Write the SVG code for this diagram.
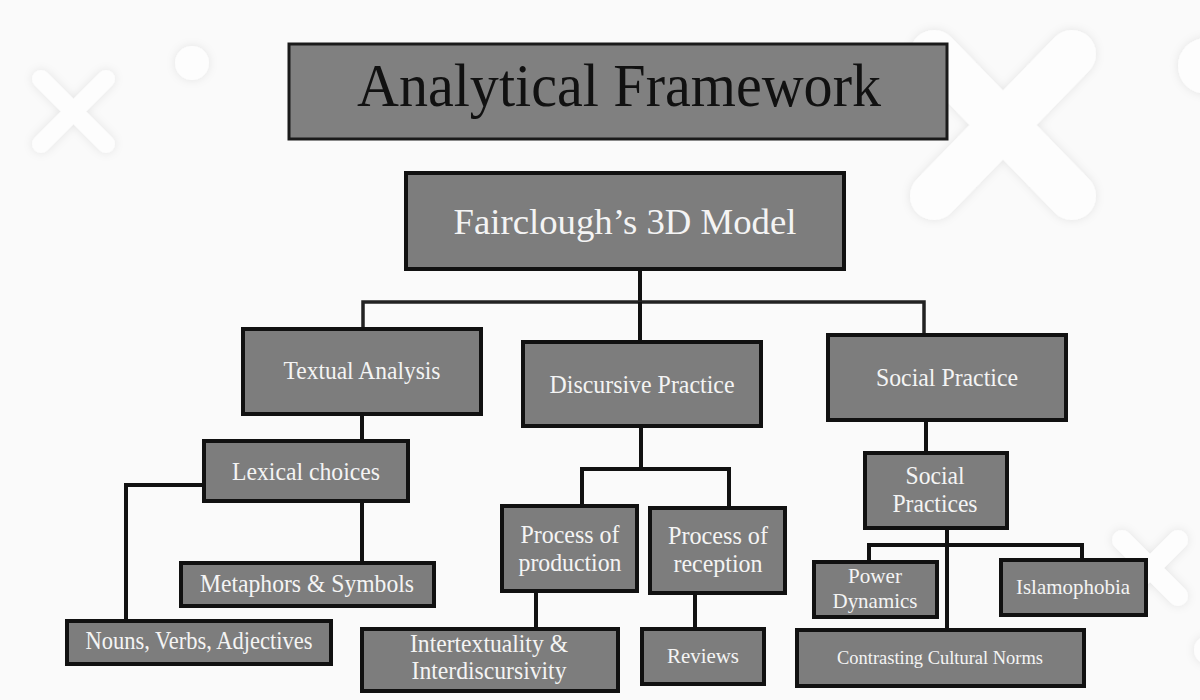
<svg xmlns="http://www.w3.org/2000/svg" width="1200" height="700" viewBox="0 0 1200 700">
<defs>
<filter id="soft" x="-50%" y="-50%" width="200%" height="200%">
<feDropShadow dx="0" dy="0" stdDeviation="5" flood-color="#000" flood-opacity="0.09"/>
</filter>
<style>
.bg{fill:#fafafa}
.deco{fill:none;stroke:#fdfdfd;stroke-linecap:round}
.dot{fill:#fdfdfd}
.box{fill:#7d7d7d;stroke:#111;stroke-width:4}
.tbox{fill:#808080;stroke:#1a1a1a;stroke-width:3}
.lbl{font-family:"Liberation Serif","Times New Roman",serif;fill:#f4f4f4;text-anchor:middle;font-size:25px}
.sm{font-size:21px}
.xs{font-size:19px}
.title{font-family:"Liberation Serif","Times New Roman",serif;fill:#111;text-anchor:middle;font-size:62px}
.conn{fill:none;stroke:#111;stroke-width:4}
.hub{fill:none;stroke:#222;stroke-width:3.5}
</style>
</defs>
<rect class="bg" x="0" y="0" width="1200" height="700"/>
<g id="decorations" filter="url(#soft)">
<path class="deco" stroke-width="18" d="M41,79 L106,144 M106,79 L41,144"/>
<circle class="dot" cx="192" cy="63" r="17"/>
<path class="deco" stroke-width="48" d="M934,54 L1072,196 M1072,54 L934,196"/>
<circle class="dot" cx="1206" cy="66" r="28"/>
<path class="deco" stroke-width="20" d="M1122,540 L1178,596 M1178,540 L1122,596"/>
<circle class="dot" cx="1208" cy="650" r="14"/>
</g>
<g id="connectors">
<path class="conn" d="M640,268 V302"/>
<path class="hub" d="M363,329 V302 H924 V335"/>
<path class="conn" d="M640,302 V342"/>
<path class="conn" d="M362,414 V441"/>
<path class="conn" d="M204,485 H126 V621"/>
<path class="conn" d="M362,501 V563"/>
<path class="conn" d="M641,426 V469"/>
<path class="conn" d="M582,506 V469 H729 V508"/>
<path class="conn" d="M536,591 V629"/>
<path class="conn" d="M695,593 V629"/>
<path class="conn" d="M926,420 V453"/>
<path class="conn" d="M947,528 V630"/>
<path class="conn" d="M869,562 V545 H1082 V560"/>
</g>
<g id="title">
<rect class="tbox" x="289" y="44" width="658" height="95"/>
<text class="title" x="619" y="106" textLength="524" lengthAdjust="spacingAndGlyphs">Analytical Framework</text>
</g>
<g id="fairclough">
<rect class="box" x="406" y="173" width="438" height="96"/>
<text class="lbl" x="625" y="234" style="font-size:36px" textLength="343" lengthAdjust="spacingAndGlyphs">Fairclough’s 3D Model</text>
</g>
<g id="textual">
<rect class="box" x="243" y="329" width="238" height="85"/>
<text class="lbl" x="362" y="379" textLength="157" lengthAdjust="spacingAndGlyphs">Textual Analysis</text>
</g>
<g id="discursive">
<rect class="box" x="523" y="342" width="238" height="84"/>
<text class="lbl" x="642" y="393" textLength="185" lengthAdjust="spacingAndGlyphs">Discursive Practice</text>
</g>
<g id="social-practice">
<rect class="box" x="828" y="335" width="238" height="85"/>
<text class="lbl" x="947" y="386" textLength="142" lengthAdjust="spacingAndGlyphs">Social Practice</text>
</g>
<g id="lexical">
<rect class="box" x="204" y="441" width="204" height="60"/>
<text class="lbl" x="306" y="480" textLength="148" lengthAdjust="spacingAndGlyphs">Lexical choices</text>
</g>
<g id="metaphors">
<rect class="box" x="181" y="563" width="253" height="43"/>
<text class="lbl" x="307" y="592" textLength="214" lengthAdjust="spacingAndGlyphs">Metaphors &amp; Symbols</text>
</g>
<g id="nouns">
<rect class="box" x="67" y="621" width="264" height="43"/>
<text class="lbl" x="199" y="649" textLength="227" lengthAdjust="spacingAndGlyphs">Nouns, Verbs, Adjectives</text>
</g>
<g id="production">
<rect class="box" x="502" y="506" width="135" height="85"/>
<text class="lbl" x="570" y="543" textLength="99" lengthAdjust="spacingAndGlyphs">Process of</text>
<text class="lbl" x="570" y="571" textLength="103" lengthAdjust="spacingAndGlyphs">production</text>
</g>
<g id="reception">
<rect class="box" x="650" y="508" width="135" height="85"/>
<text class="lbl" x="718" y="544" textLength="100" lengthAdjust="spacingAndGlyphs">Process of</text>
<text class="lbl" x="718" y="572" textLength="89" lengthAdjust="spacingAndGlyphs">reception</text>
</g>
<g id="intertextuality">
<rect class="box" x="362" y="629" width="256" height="62"/>
<text class="lbl" x="489" y="652" textLength="158" lengthAdjust="spacingAndGlyphs">Intertextuality &amp;</text>
<text class="lbl" x="489" y="679" textLength="155" lengthAdjust="spacingAndGlyphs">Interdiscursivity</text>
</g>
<g id="reviews">
<rect class="box" x="642" y="629" width="122" height="55"/>
<text class="lbl sm" x="703" y="663" textLength="72" lengthAdjust="spacingAndGlyphs">Reviews</text>
</g>
<g id="social-practices">
<rect class="box" x="865" y="453" width="142" height="75"/>
<text class="lbl" x="935" y="484" textLength="59" lengthAdjust="spacingAndGlyphs">Social</text>
<text class="lbl" x="935" y="512" textLength="85" lengthAdjust="spacingAndGlyphs">Practices</text>
</g>
<g id="power">
<rect class="box" x="814" y="562" width="123" height="55"/>
<text class="lbl sm" x="875" y="583" textLength="54" lengthAdjust="spacingAndGlyphs">Power</text>
<text class="lbl sm" x="875" y="608" textLength="85" lengthAdjust="spacingAndGlyphs">Dynamics</text>
</g>
<g id="islamophobia">
<rect class="box" x="1001" y="560" width="145" height="55"/>
<text class="lbl sm" x="1073" y="594" textLength="114" lengthAdjust="spacingAndGlyphs">Islamophobia</text>
</g>
<g id="contrasting">
<rect class="box" x="797" y="630" width="287" height="56"/>
<text class="lbl xs" x="940" y="664" textLength="206" lengthAdjust="spacingAndGlyphs">Contrasting Cultural Norms</text>
</g>
</svg>
